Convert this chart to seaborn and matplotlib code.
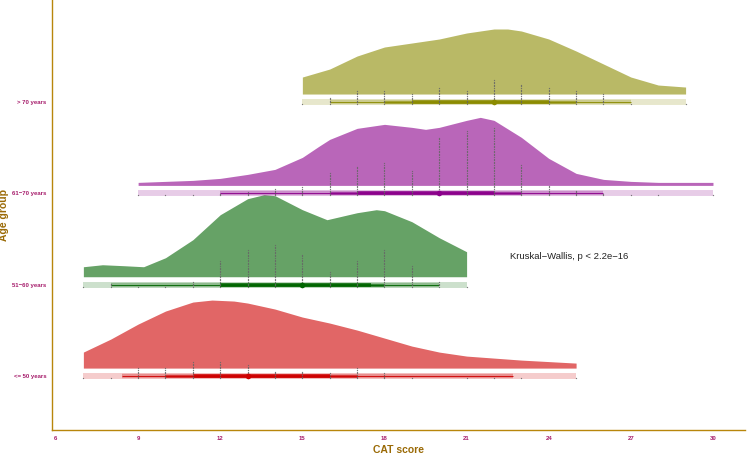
import numpy as np
import pandas as pd
import seaborn as sns
import matplotlib.pyplot as plt

groups = ["<= 50 years", "51\u221260 years", "61\u221270 years", "> 70 years"]
colors = ["#CD0000", "#006400", "#8B008B", "#8B8B00"]

# density profiles (relative heights)
dens_x_50 = [7, 8, 9, 10, 11, 11.7, 12.5, 13, 14, 15, 16, 17, 18, 19, 20, 21, 22, 23, 24, 25]
dens_h_50 = [16, 29, 44, 57, 66, 68, 67, 65, 59, 51, 45, 38, 30, 22, 16, 12, 10, 8, 6.5, 5]
dens_x_60 = [7, 7.7, 8.5, 9.2, 10, 11, 12, 13, 13.6, 14, 15, 15.9, 17, 17.7, 18, 19, 20, 21]
dens_h_60 = [10, 12, 11, 10, 19, 37, 62, 78, 82, 81, 67, 57, 64, 67, 66, 55, 39, 25]
dens_x_70 = [9, 10, 11, 12, 13, 14, 15, 15.6, 16, 17, 18, 19, 19.5, 20, 21, 21.5, 22, 23, 24, 25, 26, 27, 28, 29, 30]
dens_h_70 = [3, 4, 5, 7, 11, 16, 28, 39, 46, 57, 61, 58, 56, 58, 65, 68, 65, 48, 27, 12, 6, 4, 3, 3, 3]
dens_x_80 = [15, 16, 17, 18, 19, 20, 21, 22, 22.5, 23, 24, 25, 26, 27, 28, 29]
dens_h_80 = [17, 25, 38, 47, 51, 55, 61, 65, 65, 63, 55, 43, 30, 17, 9, 7]

# dot stacks: score and number of patients
score_50 = [7, 8, 9, 10, 11, 12, 13, 14, 15, 16, 17, 18, 19, 21, 22, 23, 25]
count_50 = [1, 1, 7, 7, 11, 11, 9, 5, 5, 4, 7, 4, 1, 1, 1, 1, 1]
score_60 = [7, 8, 9, 10, 11, 12, 13, 14, 15, 16, 17, 18, 19, 20, 21]
count_60 = [1, 3, 1, 1, 4, 17, 24, 27, 21, 10, 17, 24, 14, 4, 1]
score_70 = [9, 10, 11, 12, 13, 14, 15, 16, 17, 18, 19, 20, 21, 22, 23, 24, 25, 26, 27, 28, 30]
count_70 = [1, 1, 1, 2, 3, 5, 6, 15, 19, 21, 16, 37, 41, 43, 20, 7, 4, 2, 1, 1, 1]
score_80 = [15, 16, 17, 18, 19, 20, 21, 22, 23, 24, 25, 26, 27, 29]
count_80 = [1, 5, 9, 9, 7, 11, 9, 16, 13, 11, 9, 7, 1, 1]

# interval summaries: min, 2.5%, 10%, 25%, median, 75%, 90%, 97.5%, max
q_50 = [7, 8.4, 10, 11, 13, 16, 17, 22.7, 25]
q_60 = [7, 8, 12, 12, 15, 17.5, 18, 20, 21]
q_70 = [9, 12, 16, 17, 20, 22, 23, 26, 30]
q_80 = [15, 16, 18, 19, 22, 24, 25, 27, 29]

dens_x = [dens_x_50, dens_x_60, dens_x_70, dens_x_80]
dens_h = [dens_h_50, dens_h_60, dens_h_70, dens_h_80]
scores = [score_50, score_60, score_70, score_80]
counts = [count_50, count_60, count_70, count_80]
quants = [q_50, q_60, q_70, q_80]

sns.set_theme(style="white")
plt.rcParams['font.family'] = ['Liberation Sans', 'DejaVu Sans']

fig = plt.figure(figsize=(7.5, 4.55), dpi=100)
ax = fig.add_axes([52 / 750, 25 / 455, 693 / 750, 430 / 455])

px = 1 / 91.3  # one pixel in y units

for i in range(4):
    col = colors[i]
    # half eye density
    xs = np.array(dens_x[i])
    hs = np.array(dens_h[i]) * px
    ax.fill_between(xs, i + 8 * px, i + 8 * px + hs, color=col, alpha=0.6, linewidth=0, zorder=1)

    q = quants[i]
    ax.hlines(i, q[0], q[8], color=col, alpha=0.2, linewidth=4.3, zorder=2)
    ax.hlines(i, q[1], q[7], color=col, alpha=0.3, linewidth=3.2, zorder=2)
    ax.hlines(i, q[1], q[7], color=col, alpha=0.9, linewidth=0.7, zorder=3)
    ax.hlines(i, q[2], q[6], color=col, alpha=0.6, linewidth=2.2, zorder=3)
    ax.hlines(i, q[3], q[5], color=col, alpha=0.9, linewidth=2.6, zorder=3)

    # stacked dots
    xs_d = np.repeat(scores[i], counts[i])
    ys_d = np.concatenate([i - 2 * px + np.arange(c) * 1.6 * px for c in counts[i]])
    dots = pd.DataFrame({"x": xs_d, "y": ys_d})
    sns.scatterplot(data=dots, x="x", y="y", s=0.9, color="#666666", linewidth=0,
                    alpha=0.85, ax=ax, legend=False, zorder=4)

    med = pd.DataFrame({"x": [q[4]], "y": [i]})
    sns.scatterplot(data=med, x="x", y="y", s=16, color=col, linewidth=0,
                    ax=ax, legend=False, zorder=5)

ax.text(22.58, 1.314, "Kruskal\u2212Wallis, p < 2.2e\u221216", fontsize=6.8,
        color="#222222", va="center", ha="left")

ax.set_xlim(5.854, 31.17)
ax.set_ylim(-0.59, 4.117)
ax.set_xticks(range(6, 31, 3))
ax.set_yticks(range(4))
ax.set_yticklabels(groups)
ax.tick_params(axis="both", length=0, labelsize=4.3, labelcolor="#A61C6B", pad=4)
for lab in ax.get_xticklabels() + ax.get_yticklabels():
    lab.set_fontweight("bold")

ax.set_xlabel("CAT score", fontsize=7.5, fontweight="bold", color="#9A6A06", labelpad=3)
ax.set_ylabel("Age group", fontsize=7.5, fontweight="bold", color="#9A6A06")
ax.yaxis.set_label_coords(-0.062, 0.5)

for s in ["top", "right"]:
    ax.spines[s].set_visible(False)
for s in ["left", "bottom"]:
    ax.spines[s].set_color("#B8860B")
    ax.spines[s].set_linewidth(1.0)

fig.savefig("out.png", dpi=100)
